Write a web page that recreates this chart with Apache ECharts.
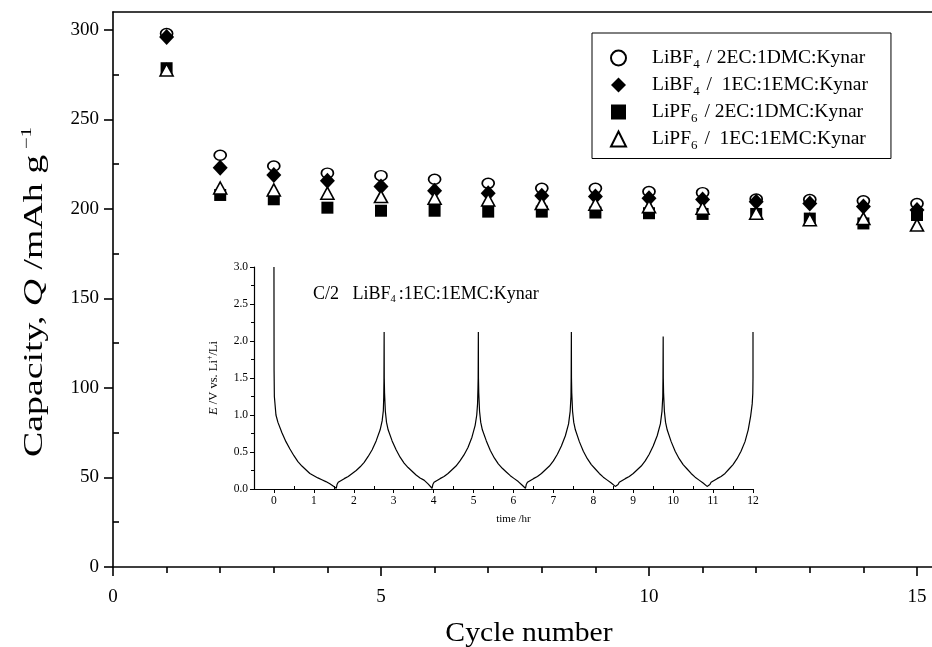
<!DOCTYPE html>
<html>
<head>
<meta charset="utf-8">
<script src="https://cdn.jsdelivr.net/npm/echarts@6/dist/echarts.min.js"></script>
<style>html,body{margin:0;padding:0;background:#fff}#c{width:932px;height:647px}</style>
</head>
<body>
<div id="c"></div>
<script>
// ---- Main chart data ----
const cycles = [1,2,3,4,5,6,7,8,9,10,11,12,13,14,15];
const libf4DMC = [298, 230, 224, 220, 218.6, 216.6, 214.3, 211.5, 211.5, 209.7, 209.1, 205.5, 205.3, 204.6, 203];
const libf4EMC = [296, 223, 219, 215.8, 212.5, 210.2, 208.8, 207.3, 207, 205.9, 205.3, 204, 203, 201.3, 199.4];
const lipf6DMC = [278.6, 207.8, 205.4, 200.7, 199, 199, 198.5, 198.5, 198, 197.6, 197.2, 197.2, 194.6, 191.9, 196.6];
const lipf6EMC = [277.6, 211.7, 210.6, 208.8, 206.9, 206, 205, 203, 202.6, 201.3, 200.4, 197.6, 194, 194.6, 191];
const seriesNames = ['LiBF4 / 2EC:1DMC:Kynar', 'LiBF4 /  1EC:1EMC:Kynar', 'LiPF6 / 2EC:1DMC:Kynar', 'LiPF6 /  1EC:1EMC:Kynar'];
const xMajorTicks = [0, 5, 10, 15];
const xMinorTicks = [1,2,3,4,6,7,8,9,11,12,13,14];
const yMajorTicks = [0, 50, 100, 150, 200, 250, 300];
const yMinorTicks = [25, 75, 125, 175, 225, 275];

// ---- Inset: potential (V) vs time (hr) ----
const insetCurve = [
  [0,3.0],[0.003,1.6],[0.01,1.25],[0.05,1.0],[0.1,0.9],[0.2,0.76],[0.3,0.64],[0.4,0.54],[0.5,0.45],[0.6,0.37],[0.7,0.31],[0.8,0.26],[0.9,0.21],[1.0,0.18],[1.1,0.15],[1.2,0.125],[1.3,0.1],[1.4,0.07],[1.5,0.035],[1.56,0.01],
  [1.58,0.06],[1.61,0.09],[1.66,0.11],[1.76,0.14],[1.86,0.17],[1.96,0.21],[2.06,0.25],[2.16,0.3],[2.26,0.36],[2.36,0.44],[2.46,0.53],[2.56,0.65],[2.66,0.8],[2.71,0.92],[2.74,1.06],[2.75,1.24],[2.755,1.45],[2.76,2.12],
  [2.763,1.5],[2.77,1.3],[2.79,1.05],[2.82,0.9],[2.86,0.8],[2.96,0.65],[3.06,0.53],[3.16,0.43],[3.26,0.35],[3.36,0.29],[3.46,0.24],[3.56,0.19],[3.66,0.15],[3.76,0.12],[3.86,0.07],[3.96,0.01],
  [3.98,0.06],[4.01,0.09],[4.06,0.11],[4.16,0.14],[4.26,0.17],[4.36,0.21],[4.46,0.26],[4.56,0.31],[4.66,0.38],[4.76,0.46],[4.86,0.56],[4.96,0.7],[5.04,0.86],[5.08,1.0],[5.1,1.15],[5.11,1.35],[5.115,1.5],[5.12,2.12],
  [5.123,1.5],[5.13,1.3],[5.15,1.05],[5.18,0.9],[5.22,0.8],[5.32,0.65],[5.42,0.52],[5.52,0.42],[5.62,0.34],[5.72,0.28],[5.82,0.23],[5.92,0.18],[6.02,0.14],[6.12,0.1],[6.22,0.05],[6.3,0.01],
  [6.32,0.06],[6.35,0.09],[6.4,0.11],[6.5,0.14],[6.6,0.17],[6.7,0.21],[6.8,0.26],[6.9,0.31],[7.0,0.38],[7.1,0.47],[7.2,0.58],[7.3,0.72],[7.38,0.88],[7.42,1.05],[7.44,1.25],[7.445,1.5],[7.45,2.12],
  [7.453,1.5],[7.46,1.3],[7.48,1.05],[7.51,0.9],[7.55,0.8],[7.65,0.64],[7.75,0.51],[7.85,0.41],[7.95,0.33],[8.05,0.27],[8.15,0.21],[8.25,0.16],[8.35,0.12],[8.45,0.08],[8.55,0.035],[8.6,0.01],
  [8.62,0.06],[8.65,0.09],[8.7,0.11],[8.8,0.14],[8.9,0.17],[9.0,0.21],[9.1,0.26],[9.2,0.31],[9.3,0.38],[9.4,0.47],[9.5,0.58],[9.6,0.72],[9.68,0.88],[9.72,1.05],[9.74,1.25],[9.745,1.5],[9.75,2.06],
  [9.753,1.5],[9.76,1.3],[9.78,1.05],[9.81,0.9],[9.85,0.8],[9.95,0.64],[10.05,0.51],[10.15,0.41],[10.25,0.33],[10.35,0.27],[10.45,0.21],[10.55,0.16],[10.65,0.12],[10.75,0.08],[10.85,0.035],[10.9,0.01],
  [10.92,0.06],[10.95,0.09],[11.0,0.11],[11.1,0.14],[11.2,0.17],[11.3,0.21],[11.4,0.27],[11.5,0.33],[11.6,0.41],[11.7,0.51],[11.8,0.64],[11.88,0.8],[11.94,0.98],[11.98,1.15],[11.995,1.29],[12.0,1.5],[12.0,2.12]
];
const insetMajorTicks = [0,1,2,3,4,5,6,7,8,9,10,11,12];
const insetMinorTicks = [0.5,1.5,2.5,3.5,4.5,5.5,6.5,7.5,8.5,9.5,10.5,11.5];

const FONT = '"Liberation Serif", "Times New Roman", serif';
const subFmt = {
  'LiBF4 / 2EC:1DMC:Kynar': '{t|LiBF}{sub|4}{t| / 2EC:1DMC:Kynar}',
  'LiBF4 /  1EC:1EMC:Kynar': '{t|LiBF}{sub|4}{t| /  1EC:1EMC:Kynar}',
  'LiPF6 / 2EC:1DMC:Kynar': '{t|LiPF}{sub|6}{t| / 2EC:1DMC:Kynar}',
  'LiPF6 /  1EC:1EMC:Kynar': '{t|LiPF}{sub|6}{t| /  1EC:1EMC:Kynar}'
};

const chart = echarts.init(document.getElementById('c'), null, {renderer: 'canvas'});
const hollow = {color: '#fff', borderColor: '#000', borderWidth: 1.6, opacity: 1};
const filled = {color: '#000', borderColor: '#000', borderWidth: 0, opacity: 1};
const axisBlack = {color: '#000', width: 1.6};

function mk(arr) { return cycles.map((c, i) => [c, arr[i]]); }

chart.setOption({
  animation: false,
  backgroundColor: '#fff',
  textStyle: {fontFamily: FONT},
  grid: [
    {left: 113, top: 12, bottom: 80, right: 0, show: false},
    {left: 254, top: 267, bottom: 158, right: 179, show: false}
  ],
  legend: {
    orient: 'vertical',
    left: 592, top: 33,
    padding: [15, 23, 6, 18],
    borderColor: '#000', borderWidth: 1,
    itemGap: 3.5,
    itemWidth: 15, itemHeight: 15,
    data: seriesNames,
    formatter: n => subFmt[n],
    textStyle: {
      fontFamily: FONT, color: '#000', fontSize: 19.5, padding: [0, 0, 0, 21],
      rich: {
        t: {fontFamily: FONT, fontSize: 19.5, color: '#000', lineHeight: 24},
        sub: {fontFamily: FONT, fontSize: 13, color: '#000', padding: [14, 2, 0, 0]}
      }
    }
  },
  xAxis: [
    {
      gridIndex: 0, type: 'value', position: 'bottom', min: 0, max: 15.28, interval: 5,
      axisLine: {lineStyle: axisBlack},
      axisTick: {show: true, customValues: xMajorTicks, length: 9, lineStyle: axisBlack},
      splitLine: {show: false},
      axisLabel: {customValues: xMajorTicks, color: '#000', fontFamily: FONT, fontSize: 19, margin: 21}
    },
    {
      gridIndex: 0, type: 'value', position: 'bottom', min: 0, max: 15.28, interval: 5,
      axisLine: {show: false},
      axisTick: {show: true, customValues: xMinorTicks, length: 6, lineStyle: axisBlack},
      axisLabel: {show: false}, splitLine: {show: false}
    },
    {
      gridIndex: 0, type: 'value', position: 'top', min: 0, max: 15.28, interval: 5,
      axisLine: {lineStyle: axisBlack},
      axisTick: {show: false}, axisLabel: {show: false}, splitLine: {show: false}
    },
    {
      gridIndex: 1, type: 'value', position: 'bottom', min: -0.5, max: 12, interval: 0.5,
      axisLine: {onZero: false, lineStyle: {color: '#000', width: 1.2}},
      axisTick: {show: true, customValues: insetMajorTicks, length: 4, lineStyle: {color: '#000', width: 1}},
      axisLabel: {customValues: insetMajorTicks, color: '#000', fontFamily: FONT, fontSize: 11.5, margin: 6},
      splitLine: {show: false},
      name: 'time /hr', nameLocation: 'middle', nameGap: 25,
      nameTextStyle: {color: '#000', fontFamily: FONT, fontSize: 11, padding: [0, 0, 0, 20]}
    },
    {
      gridIndex: 1, type: 'value', position: 'bottom', min: -0.5, max: 12, interval: 0.5,
      axisLine: {show: false},
      axisTick: {show: true, inside: true, customValues: insetMinorTicks, length: 3, lineStyle: {color: '#000', width: 1}},
      axisLabel: {show: false}, splitLine: {show: false}
    }
  ],
  yAxis: [
    {
      gridIndex: 0, type: 'value', min: 0, max: 310, interval: 50,
      axisLine: {show: true, lineStyle: axisBlack},
      axisTick: {show: true, customValues: yMajorTicks, length: 9, lineStyle: axisBlack},
      splitLine: {show: false},
      axisLabel: {customValues: yMajorTicks, color: '#000', fontFamily: FONT, fontSize: 19, margin: 14}
    },
    {
      gridIndex: 0, type: 'value', min: 0, max: 310, interval: 50,
      axisLine: {show: false},
      axisTick: {show: true, customValues: yMinorTicks, length: 6, lineStyle: axisBlack},
      axisLabel: {show: false}, splitLine: {show: false}
    },
    {
      gridIndex: 1, type: 'value', min: 0, max: 3, interval: 0.5,
      axisLine: {show: true, onZero: false, lineStyle: {color: '#000', width: 1.2}},
      axisTick: {show: true, length: 4, lineStyle: {color: '#000', width: 1}},
      minorTick: {show: true, splitNumber: 2, length: 3, lineStyle: {color: '#000', width: 1}},
      splitLine: {show: false},
      axisLabel: {color: '#000', fontFamily: FONT, fontSize: 11.5, margin: 6, formatter: v => v.toFixed(1)},
      name: '{i|E}{a| /V vs. Li}{s|+}{a|/Li}', nameLocation: 'middle', nameGap: 33,
      nameTextStyle: {
        color: '#000', fontFamily: FONT, fontSize: 12.5,
        rich: {
          a: {fontFamily: FONT, fontSize: 12.5, color: '#000'},
          i: {fontFamily: FONT, fontSize: 12.5, color: '#000', fontStyle: 'italic'},
          s: {fontFamily: FONT, fontSize: 8, color: '#000', padding: [0, 0, 7, 0]}
        }
      }
    }
  ],
  graphic: [
    {
      type: 'text', left: 313, top: 285,
      style: {
        text: '{t|C/2   LiBF}{sub|4}{t|:1EC:1EMC:Kynar}',
        rich: {
          t: {fontFamily: FONT, fontSize: 18, fill: '#000', lineHeight: 21},
          sub: {fontFamily: FONT, fontSize: 10.5, fill: '#000', padding: [10, 3, 0, 0]}
        }
      }
    },
    {
      type: 'text', x: 529, y: 634, scaleX: 1.06,
      style: {
        text: 'Cycle number', fontFamily: FONT, fontSize: 28, fill: '#000',
        align: 'center', verticalAlign: 'middle'
      }
    },
    {
      type: 'text', x: 35, y: 292, rotation: Math.PI / 2, scaleX: 1.4,
      style: {
        text: '{a|Capacity, }{i|Q}{a| /mAh g}{s|−1}',
        align: 'center', verticalAlign: 'middle',
        rich: {
          a: {fontFamily: FONT, fontSize: 27, fill: '#000'},
          i: {fontFamily: FONT, fontSize: 27, fill: '#000', fontStyle: 'italic'},
          s: {fontFamily: FONT, fontSize: 15, fill: '#000', padding: [0, 0, 16, 4]}
        }
      }
    }
  ],
  series: [
    {name: seriesNames[0], type: 'scatter', xAxisIndex: 0, yAxisIndex: 0, data: mk(libf4DMC),
      symbol: 'circle', symbolSize: [12, 10], itemStyle: hollow, z: 2},
    {name: seriesNames[1], type: 'scatter', xAxisIndex: 0, yAxisIndex: 0, data: mk(libf4EMC),
      symbol: 'diamond', symbolSize: [15, 16], itemStyle: filled, z: 3},
    {name: seriesNames[2], type: 'scatter', xAxisIndex: 0, yAxisIndex: 0, data: mk(lipf6DMC),
      symbol: 'rect', symbolSize: [12, 12], itemStyle: filled, z: 4},
    {name: seriesNames[3], type: 'scatter', xAxisIndex: 0, yAxisIndex: 0, data: mk(lipf6EMC),
      symbol: 'triangle', symbolSize: [13, 12], itemStyle: hollow, z: 5},
    {name: 'inset', type: 'line', xAxisIndex: 3, yAxisIndex: 2, data: insetCurve,
      showSymbol: false, symbol: 'none', lineStyle: {color: '#000', width: 1.2}, clip: false, z: 2}
  ]
});
</script>
</body>
</html>
